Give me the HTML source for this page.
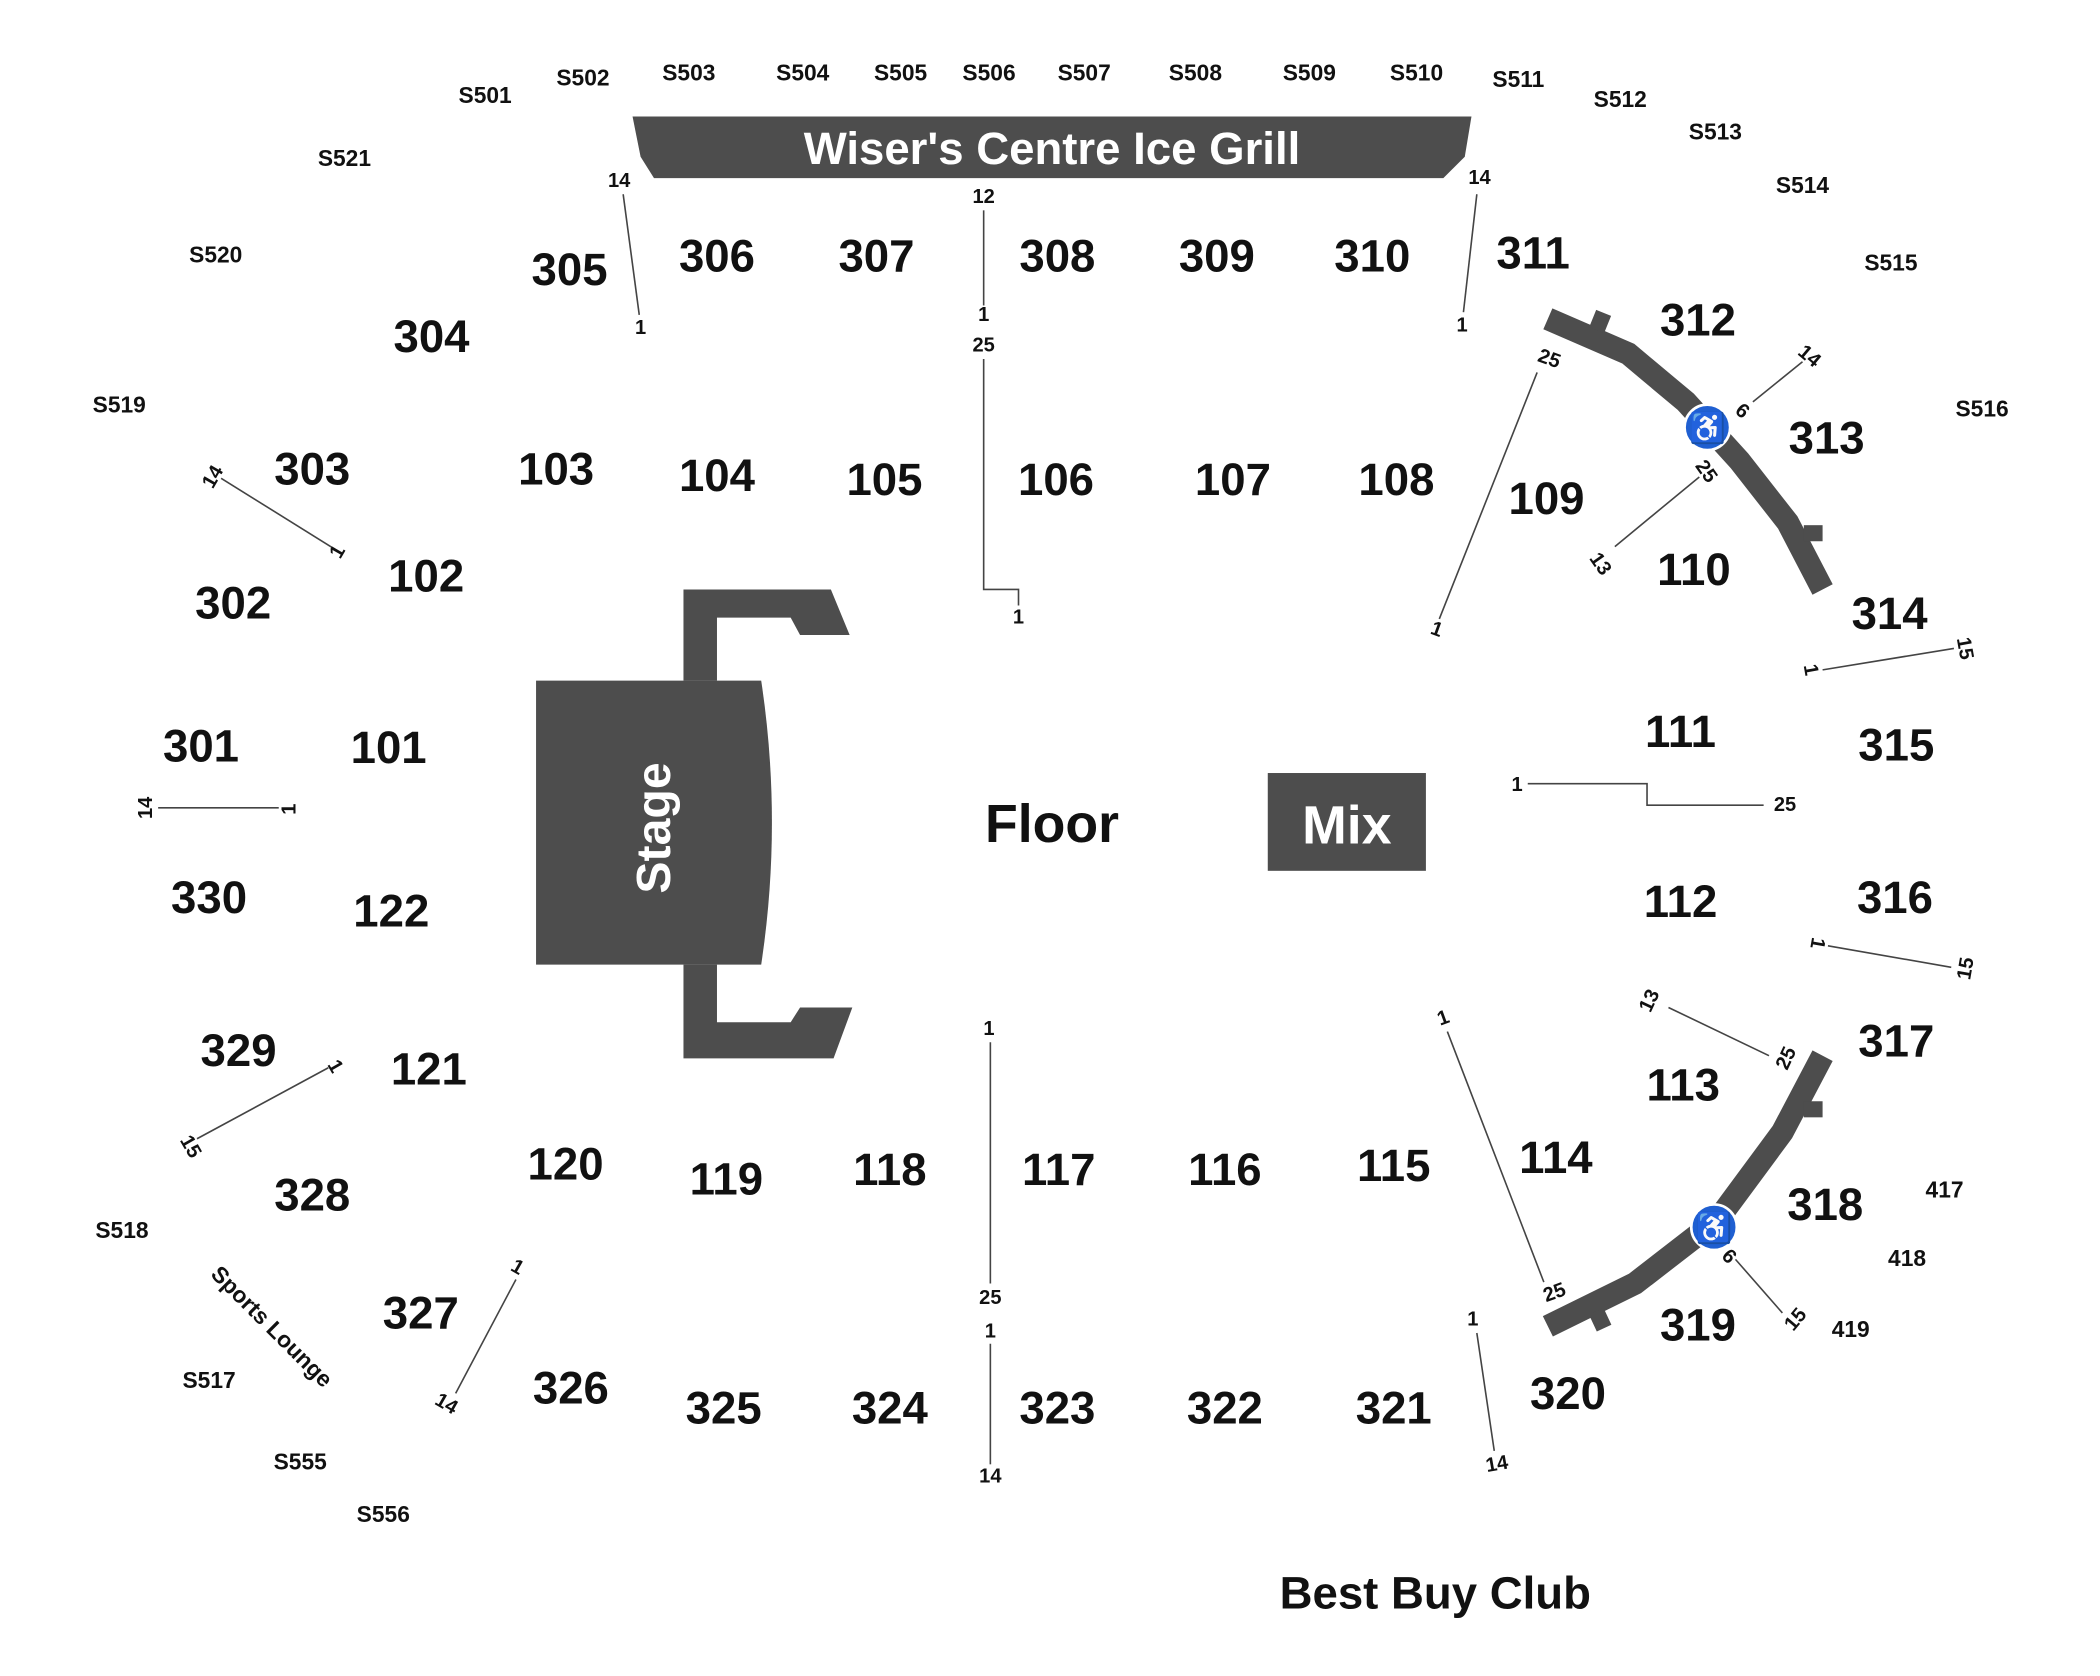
<!DOCTYPE html>
<html><head><meta charset="utf-8"><style>
html,body{margin:0;padding:0;background:#fff;}
svg{display:block;}
text{font-family:"Liberation Sans",Arial,sans-serif;font-weight:bold;fill:#111;}
.b{font-size:34px;}
.s{font-size:17px;}
.r{font-size:15px;}
</style></head><body>
<svg width="2100" height="1676" viewBox="0 0 1567 1251" preserveAspectRatio="none" xmlns="http://www.w3.org/2000/svg">
<rect width="1600" height="1300" fill="#fff"/>
<polygon points="472,87 1098,87 1093,117 1077,133 488,133 478,117" fill="#4d4d4d"/>
<text x="785" y="111" font-size="34" text-anchor="middle" dominant-baseline="central" style="fill:#fff">Wiser's Centre Ice Grill</text>
<path d="M400,508 L568,508 Q584,614 568,720 L400,720 Z" fill="#4d4d4d"/>
<polygon points="510,440 620,440 634,474 597,474 590,461 535,461 535,508 510,508" fill="#4d4d4d"/>
<polygon points="510,720 535,720 535,763 590,763 597,752 636,752 622,790 510,790" fill="#4d4d4d"/>
<text transform="translate(488,618) rotate(-90)" font-size="36" text-anchor="middle" dominant-baseline="central" style="fill:#fff">Stage</text>
<rect x="946" y="577" width="118" height="73" fill="#4d4d4d"/>
<text x="1005" y="616" font-size="40" text-anchor="middle" dominant-baseline="central" style="fill:#fff">Mix</text>
<text x="785" y="615" font-size="40" text-anchor="middle" dominant-baseline="central">Floor</text>
<text x="1071" y="1189" font-size="34" text-anchor="middle" dominant-baseline="central">Best Buy Club</text>
<g fill="none" stroke="#4d4d4d" stroke-width="17">
<path d="M1155,238 L1215,264 L1258,300 L1298,344 L1334,390 L1360,440"/>
<path d="M1360,788 L1330,845 L1282,910 L1220,958 L1155,990"/>
</g>
<g fill="#4d4d4d">
<rect x="1188" y="233" width="12" height="14" transform="rotate(22 1194 240)"/>
<rect x="1346" y="392" width="14" height="12"/>
<rect x="1346" y="822" width="14" height="12"/>
<rect x="1188" y="978" width="12" height="14" transform="rotate(-25 1194 985)"/>
</g>
<g stroke="#444" stroke-width="1.2" fill="none">
<path d="M477,235 L465,145"/>
<path d="M734,157 L734,228"/>
<path d="M734,268 L734,440 L760,440 L760,452"/>
<path d="M1092,233 L1102,145"/>
<path d="M1074,462 L1147,278"/>
<path d="M1308,300 L1345,270"/>
<path d="M1205,408 L1268,356"/>
<path d="M1360,500 L1458,484"/>
<path d="M1140,585 L1229,585 L1229,601 L1316,601"/>
<path d="M1364,706 L1456,722"/>
<path d="M1245,752 L1320,788"/>
<path d="M1080,770 L1152,957"/>
<path d="M1295,940 L1330,980"/>
<path d="M1102,995 L1115,1083"/>
<path d="M739,778 L739,958"/>
<path d="M739,1003 L739,1093"/>
<path d="M385,955 L340,1040"/>
<path d="M245,797 L147,850"/>
<path d="M118,603 L208,603"/>
<path d="M165,357 L250,410"/>
</g>
<g>
<circle cx="1274" cy="319" r="17" fill="#1f5fd1" stroke="#fff" stroke-width="2"/>
<text x="1274" y="320" font-size="22" text-anchor="middle" dominant-baseline="central" style="fill:#fff">♿</text>
<circle cx="1279" cy="916" r="17" fill="#1f5fd1" stroke="#fff" stroke-width="2"/>
<text x="1279" y="917" font-size="22" text-anchor="middle" dominant-baseline="central" style="fill:#fff">♿</text>
</g>
<g class="b" text-anchor="middle" dominant-baseline="central">
<text x="425" y="201">305</text><text x="535" y="191">306</text><text x="654" y="191">307</text>
<text x="789" y="191">308</text><text x="908" y="191">309</text><text x="1024" y="191">310</text>
<text x="1144" y="189">311</text><text x="322" y="251">304</text><text x="1267" y="239">312</text>
<text x="1363" y="327">313</text><text x="233" y="350">303</text><text x="415" y="350">103</text>
<text x="535" y="355">104</text><text x="660" y="358">105</text><text x="788" y="358">106</text>
<text x="920" y="358">107</text><text x="1042" y="358">108</text><text x="1154" y="372">109</text>
<text x="1264" y="425">110</text><text x="1410" y="458">314</text><text x="318" y="430">102</text>
<text x="174" y="450">302</text><text x="1254" y="546">111</text><text x="1415" y="556">315</text>
<text x="150" y="557">301</text><text x="290" y="558">101</text><text x="156" y="670">330</text>
<text x="292" y="680">122</text><text x="1254" y="673">112</text><text x="1414" y="670">316</text>
<text x="178" y="784">329</text><text x="320" y="798">121</text><text x="1415" y="777">317</text>
<text x="1256" y="810">113</text><text x="1161" y="864">114</text><text x="422" y="869">120</text>
<text x="542" y="880">119</text><text x="664" y="873">118</text><text x="790" y="873">117</text>
<text x="914" y="873">116</text><text x="1040" y="870">115</text><text x="1362" y="899">318</text>
<text x="233" y="892">328</text><text x="314" y="980">327</text><text x="1267" y="989">319</text>
<text x="426" y="1036">326</text><text x="540" y="1051">325</text><text x="664" y="1051">324</text>
<text x="789" y="1051">323</text><text x="914" y="1051">322</text><text x="1040" y="1051">321</text>
<text x="1170" y="1040">320</text>
</g>
<g class="s" text-anchor="middle" dominant-baseline="central">
<text x="362" y="71">S501</text><text x="435" y="58">S502</text><text x="514" y="54">S503</text>
<text x="599" y="54">S504</text><text x="672" y="54">S505</text><text x="738" y="54">S506</text>
<text x="809" y="54">S507</text><text x="892" y="54">S508</text><text x="977" y="54">S509</text>
<text x="1057" y="54">S510</text><text x="1133" y="59">S511</text><text x="1209" y="74">S512</text>
<text x="1280" y="98">S513</text><text x="1345" y="138">S514</text><text x="1411" y="196">S515</text>
<text x="1479" y="305">S516</text><text x="257" y="118">S521</text><text x="161" y="190">S520</text>
<text x="89" y="302">S519</text><text x="91" y="918">S518</text><text x="156" y="1030">S517</text>
<text x="224" y="1091">S555</text><text x="286" y="1130">S556</text>
<text x="1451" y="888">417</text><text x="1423" y="939">418</text><text x="1381" y="992">419</text>
<text transform="translate(203,990) rotate(45)">Sports Lounge</text>
</g>
<g class="r" text-anchor="middle" dominant-baseline="central">
<text x="462" y="135">14</text><text x="478" y="245">1</text><text x="734" y="147">12</text>
<text x="734" y="235">1</text><text x="734" y="258">25</text><text x="760" y="461">1</text>
<text x="1104" y="133">14</text><text x="1091" y="243">1</text>
<text transform="translate(1156,268) rotate(20)">25</text>
<text transform="translate(1072,470) rotate(20)">1</text>
<text transform="translate(1350,266) rotate(40)">14</text>
<text transform="translate(1300,307) rotate(40)">6</text>
<text transform="translate(1273,352) rotate(55)">25</text>
<text transform="translate(1194,421) rotate(55)">13</text>
<text transform="translate(1466,484) rotate(80)">15</text>
<text transform="translate(1351,500) rotate(80)">1</text>
<text x="1132" y="586">1</text><text x="1332" y="601">25</text>
<text transform="translate(1356,704) rotate(100)">1</text>
<text transform="translate(1467,723) rotate(-80)">15</text>
<text transform="translate(1231,747) rotate(-65)">13</text>
<text transform="translate(1333,790) rotate(-65)">25</text>
<text transform="translate(1077,760) rotate(-20)">1</text>
<text transform="translate(1160,965) rotate(-20)">25</text>
<text transform="translate(1290,938) rotate(45)">6</text>
<text transform="translate(1340,985) rotate(-50)">15</text>
<text x="1099" y="985">1</text>
<text transform="translate(1117,1093) rotate(-10)">14</text>
<text x="738" y="768">1</text><text x="739" y="969">25</text><text x="739" y="994">1</text>
<text x="739" y="1102">14</text>
<text transform="translate(386,946) rotate(30)">1</text>
<text transform="translate(333,1048) rotate(30)">14</text>
<text transform="translate(250,796) rotate(60)">1</text>
<text transform="translate(142,856) rotate(60)">15</text>
<text transform="translate(109,603) rotate(-90)">14</text>
<text transform="translate(216,604) rotate(-90)">1</text>
<text transform="translate(159,356) rotate(-60)">14</text>
<text transform="translate(252,412) rotate(-60)">1</text>
</g>
</svg>
</body></html>
